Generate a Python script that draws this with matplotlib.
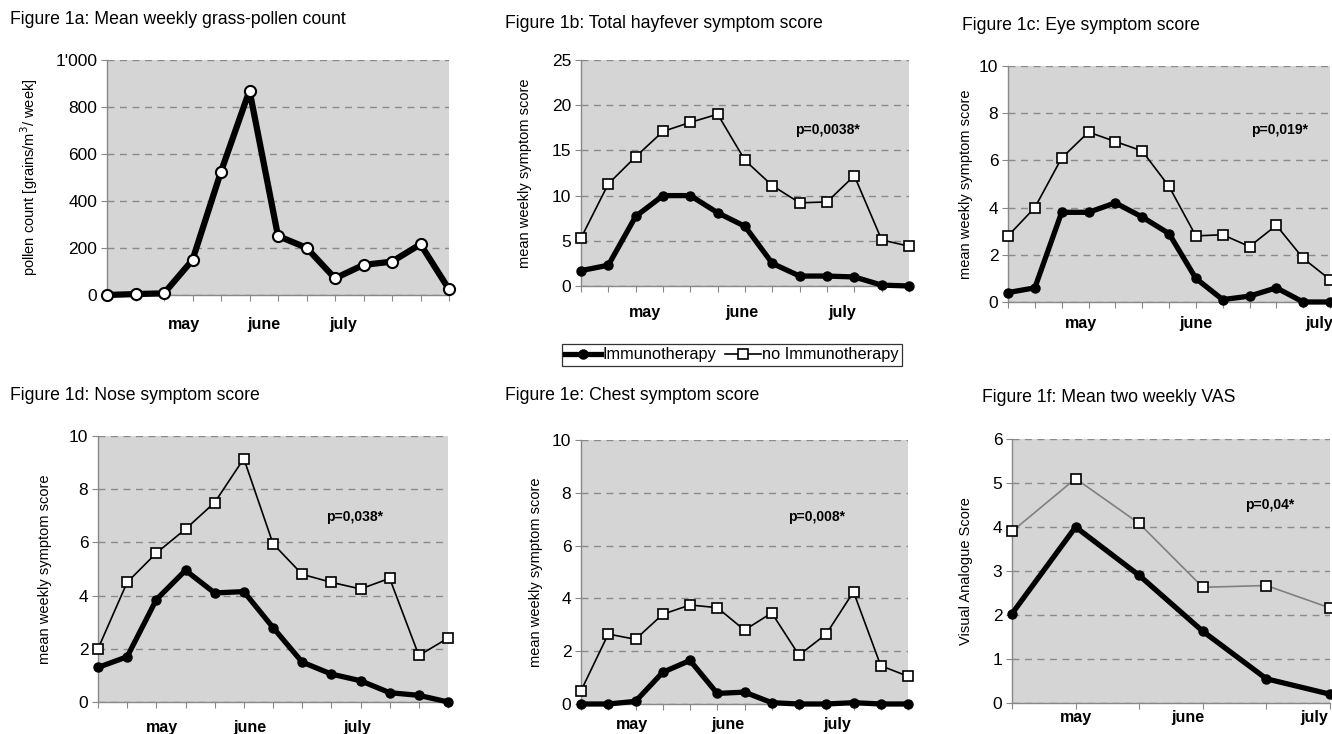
import matplotlib
matplotlib.use('Agg')
import matplotlib.pyplot as plt
import numpy as np
from matplotlib.ticker import FuncFormatter

plt.rcParams['font.family'] = ['Liberation Sans', 'DejaVu Sans']

W, H = 1332, 734

# ---- data ----
months = ['may', 'june', 'july']

pollen = [0, 4, 7, 149, 525, 870, 251, 201, 71, 128, 142, 216, 24]

total_immuno = [1.7, 2.3, 7.7, 10.0, 10.0, 8.1, 6.6, 2.5, 1.1, 1.1, 1.0, 0.1, 0.0]
total_none = [5.3, 11.3, 14.3, 17.1, 18.1, 19.0, 13.9, 11.1, 9.2, 9.3, 12.2, 5.1, 4.4]

eye_immuno = [0.4, 0.6, 3.8, 3.8, 4.2, 3.6, 2.9, 1.0, 0.1, 0.25, 0.6, 0.0, 0.0]
eye_none = [2.8, 4.0, 6.1, 7.2, 6.8, 6.4, 4.9, 2.8, 2.85, 2.35, 3.25, 1.85, 0.95]

nose_immuno = [1.3, 1.7, 3.85, 4.95, 4.1, 4.15, 2.8, 1.5, 1.05, 0.8, 0.35, 0.25, 0.0]
nose_none = [2.0, 4.5, 5.6, 6.5, 7.5, 9.15, 5.95, 4.8, 4.5, 4.25, 4.65, 1.75, 2.4]

chest_immuno = [0.0, 0.0, 0.1, 1.2, 1.65, 0.4, 0.45, 0.05, 0.0, 0.0, 0.05, 0.0, 0.0]
chest_none = [0.5, 2.65, 2.45, 3.4, 3.75, 3.65, 2.8, 3.45, 1.85, 2.65, 4.25, 1.45, 1.05]

vas_immuno = [2.03, 4.0, 2.9, 1.63, 0.55, 0.2]
vas_none = [3.9, 5.1, 4.08, 2.63, 2.67, 2.16]

p_values = ['p=0,0038*', 'p=0,019*', 'p=0,038*', 'p=0,008*', 'p=0,04*']

fig = plt.figure(figsize=(W / 100, H / 100), dpi=100)


def px_axes(left, top, right, bottom):
    return fig.add_axes([left / W, 1 - bottom / H, (right - left) / W, (bottom - top) / H])


def style(ax, n, ymax, ystep, month_pos, month_pad, ylabel, label_x, left, right):
    ax.set_facecolor('#d5d5d5')
    ax.set_xlim(0, n - 1)
    ax.set_ylim(0, ymax)
    ax.set_yticks(np.arange(0, ymax + ystep / 2, ystep))
    ax.xaxis.remove_overlapping_locs = False
    ax.set_xticks(np.arange(n))
    ax.set_xticklabels([])
    ax.set_xticks(month_pos, minor=True)
    ax.set_xticklabels(months, minor=True, fontsize=11.5, fontweight='bold')
    ax.tick_params(axis='x', which='minor', length=0, pad=month_pad)
    ax.tick_params(axis='x', which='major', length=4, color='#888888', direction='out')
    ax.tick_params(axis='y', length=4, color='#888888', labelsize=12.5, pad=3)
    for s in ['top', 'right']:
        ax.spines[s].set_visible(False)
    for s in ['left', 'bottom']:
        ax.spines[s].set_color('#888888')
        ax.spines[s].set_linewidth(1)
    ax.grid(axis='y', linestyle=(0, (5, 4)), color='#8a8a8a', linewidth=1)
    ax.set_axisbelow(True)
    ax.set_ylabel(ylabel, fontsize=10.5)
    ax.yaxis.set_label_coords((label_x - left) / (right - left), 0.5)


def two_lines(ax, immuno, none, none_color='black'):
    x = np.arange(len(immuno))
    l1, = ax.plot(x, immuno, color='black', lw=3.8, marker='o', ms=6.5,
                  mfc='black', mec='black', clip_on=False, zorder=4,
                  label='Immunotherapy')
    l2, = ax.plot(x, none, color=none_color, lw=1.2, marker='s', ms=7,
                  mfc='white', mec='black', mew=1.2, clip_on=False, zorder=3,
                  label='no Immunotherapy')
    return l1, l2


# titles
titles = [
    (10, 20, 'Figure 1a: Mean weekly grass-pollen count'),
    (505, 24, 'Figure 1b: Total hayfever symptom score'),
    (962, 26, 'Figure 1c: Eye symptom score'),
    (10, 395, 'Figure 1d: Nose symptom score'),
    (505, 396, 'Figure 1e: Chest symptom score'),
    (982, 398, 'Figure 1f: Mean two weekly VAS'),
]
for tx, ty, t in titles:
    fig.text(tx / W, 1 - ty / H, t, fontsize=12.7, va='center', ha='left')

score_label = 'mean weekly symptom score'

# 1a
ax = px_axes(107, 60, 449, 295)
style(ax, 13, 1000, 200, [2.7, 5.5, 8.3], 16, 'pollen count [grains/m$^3$/ week]', 40, 107, 449)
ax.yaxis.set_major_formatter(FuncFormatter(lambda v, p: f"{int(v):,}".replace(',', "'")))
ax.plot(np.arange(len(pollen)), pollen, color='black', lw=4.5, marker='o', ms=8,
        mfc='white', mec='black', mew=1.5, clip_on=False, zorder=4)

# 1b
ax = px_axes(581, 60, 909, 286)
style(ax, 13, 25, 5, [2.35, 5.9, 9.55], 14, score_label, 532, 581, 909)
handles = two_lines(ax, total_immuno, total_none)
fig.text(827 / W, 1 - 130 / H, p_values[0], fontsize=10, fontweight='bold', ha='center', va='center')

# 1c
ax = px_axes(1008, 66, 1330, 302)
style(ax, 13, 10, 2, [2.7, 7.0, 11.6], 10, score_label, 973, 1008, 1330)
two_lines(ax, eye_immuno, eye_none)
fig.text(1280 / W, 1 - 130 / H, p_values[1], fontsize=10, fontweight='bold', ha='center', va='center')

# 1d
ax = px_axes(98, 436, 448, 702)
style(ax, 13, 10, 2, [2.2, 5.2, 8.9], 13, score_label, 52, 98, 448)
two_lines(ax, nose_immuno, nose_none)
fig.text(355 / W, 1 - 517 / H, p_values[2], fontsize=10, fontweight='bold', ha='center', va='center')

# 1e
ax = px_axes(581, 440, 908, 704)
style(ax, 13, 10, 2, [1.87, 5.4, 9.4], 9, score_label, 543, 581, 908)
two_lines(ax, chest_immuno, chest_none)
fig.text(817 / W, 1 - 517 / H, p_values[3], fontsize=10, fontweight='bold', ha='center', va='center')

# 1f
ax = px_axes(1012, 439, 1330, 703)
style(ax, 6, 6, 1, [1.0, 2.77, 4.75], 5, 'Visual Analogue Score', 973, 1012, 1330)
two_lines(ax, vas_immuno, vas_none, none_color='#808080')
fig.text(1270 / W, 1 - 505 / H, p_values[4], fontsize=10, fontweight='bold', ha='center', va='center')

leg = fig.legend(handles=handles, loc='center', bbox_to_anchor=(732 / W, 1 - 355 / H),
                 ncol=2, fontsize=11.8, frameon=True, fancybox=False, edgecolor='black',
                 handlelength=2.2, handletextpad=0.1, columnspacing=0.5, borderpad=0.2,
                 borderaxespad=0)
leg.get_frame().set_linewidth(0.9)

fig.savefig('out.png', dpi=100)
